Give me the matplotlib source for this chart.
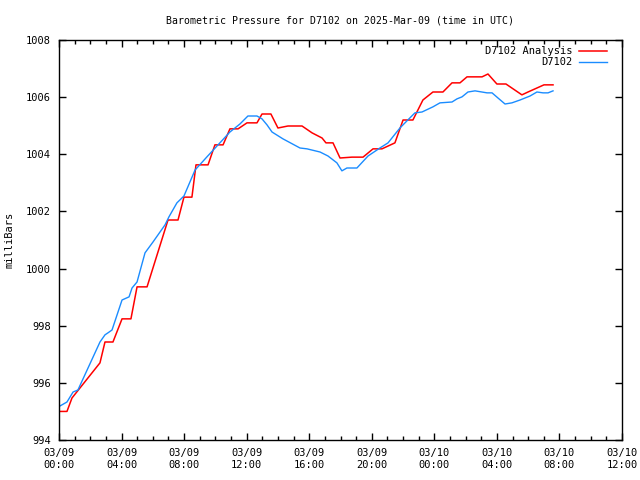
# Pression barométrique D7102 - style gnuplot
import datetime as dt
import matplotlib
matplotlib.use("Agg")
import matplotlib.pyplot as plt
import matplotlib.dates as mdates

start = dt.datetime(2025, 3, 9, 0, 0)

# Analyse (heures depuis 00:00 UTC, mb)
analysis_hours = [0.0, 0.51, 0.83, 2.62, 2.94, 3.45, 4.03, 4.60, 4.99, 5.63,
                  6.97, 7.61, 7.99, 8.50, 8.76, 9.53, 9.97, 10.49, 10.93, 11.45,
                  12.02, 12.66, 12.98, 13.55, 14.0, 14.64, 15.54, 16.18, 16.82, 17.07,
                  17.52, 17.97, 18.73, 19.44, 20.08, 20.65, 21.48, 22.0, 22.63, 23.27,
                  23.91, 24.55, 25.13, 25.64, 26.09, 27.05, 27.43, 28.0, 28.58, 29.60,
                  29.99, 30.56, 31.01, 31.59]
analysis_mb = [995.0, 995.0, 995.47, 996.70, 997.43, 997.43, 998.24, 998.24, 999.36, 999.36,
               1001.70, 1001.70, 1002.50, 1002.50, 1003.63, 1003.63, 1004.33, 1004.33, 1004.89, 1004.89,
               1005.10, 1005.10, 1005.41, 1005.41, 1004.92, 1004.99, 1004.99, 1004.75, 1004.57, 1004.40,
               1004.40, 1003.87, 1003.90, 1003.90, 1004.19, 1004.19, 1004.40, 1005.20, 1005.20, 1005.90,
               1006.18, 1006.18, 1006.50, 1006.50, 1006.71, 1006.71, 1006.81, 1006.46, 1006.46, 1006.08,
               1006.18, 1006.32, 1006.43, 1006.43]

# Station D7102
station_hours = [0.06, 0.51, 0.90, 1.21, 2.62, 2.94, 3.13, 3.39, 4.03, 4.48,
                 4.67, 4.99, 5.50, 6.01, 6.78, 7.03, 7.54, 7.99, 8.70, 9.46,
                 10.17, 10.93, 11.57, 12.08, 12.66, 12.98, 13.30, 13.62, 14.32, 15.41,
                 15.86, 16.69, 17.20, 17.77, 18.09, 18.41, 19.05, 19.76, 20.52, 21.04,
                 21.80, 22.25, 22.76, 23.21, 23.91, 24.36, 25.13, 25.45, 25.77, 26.15,
                 26.60, 27.37, 27.69, 28.07, 28.52, 28.96, 29.48, 30.12, 30.56, 30.95,
                 31.27, 31.59]
station_mb = [995.19, 995.33, 995.68, 995.75, 997.43, 997.68, 997.75, 997.85, 998.90, 999.01,
              999.32, 999.53, 1000.55, 1000.93, 1001.53, 1001.81, 1002.30, 1002.54, 1003.45, 1003.91,
              1004.33, 1004.78, 1005.06, 1005.34, 1005.34, 1005.24, 1005.03, 1004.78, 1004.54, 1004.22,
              1004.19, 1004.08, 1003.94, 1003.70, 1003.42, 1003.52, 1003.52, 1003.94, 1004.22, 1004.40,
              1004.92, 1005.17, 1005.45, 1005.48, 1005.66, 1005.80, 1005.83, 1005.94, 1006.01, 1006.18,
              1006.22, 1006.15, 1006.15, 1005.97, 1005.76, 1005.80, 1005.90, 1006.04, 1006.18, 1006.15,
              1006.15, 1006.22]

plt.rcParams['font.family'] = ['DejaVu Sans Mono']
plt.rcParams['font.size'] = 7.5

def to_dates(hours):
    return [start + dt.timedelta(hours=h) for h in hours]

fig = plt.figure(figsize=(6.4, 4.8), dpi=100)
ax = fig.add_axes([59 / 640, 40 / 480, 563 / 640, 400 / 480])

ax.plot(to_dates(analysis_hours), analysis_mb, color='#ff0000', lw=1.1, label='D7102 Analysis')
ax.plot(to_dates(station_hours), station_mb, color='#1a8cff', lw=1.0, label='D7102')

ax.set_xlim(start, start + dt.timedelta(hours=36))
ax.set_ylim(994, 1008)
ax.set_yticks(range(994, 1009, 2))
ax.xaxis.set_major_locator(mdates.HourLocator(byhour=range(0, 24, 4)))
ax.xaxis.set_minor_locator(mdates.HourLocator())
ax.xaxis.set_major_formatter(mdates.DateFormatter('%m/%d\n%H:%M'))
ax.tick_params(which='both', direction='in', top=True, right=True, width=1, color='black')
ax.tick_params(which='major', length=5, pad=6)
ax.tick_params(which='minor', length=3)
for s in ax.spines.values():
    s.set_linewidth(1)

ax.set_ylabel('milliBars', labelpad=8)
ax.set_title('Barometric Pressure for D7102 on 2025-Mar-09 (time in UTC)',
             fontsize=7.1, pad=12)

ax.legend(loc='upper right', frameon=False, markerfirst=False, handlelength=2.7,
          borderaxespad=0.2, borderpad=0.4, labelspacing=0.1, handletextpad=0.6,
          bbox_to_anchor=(0.985, 1.0))

fig.savefig('out.png', dpi=100)
